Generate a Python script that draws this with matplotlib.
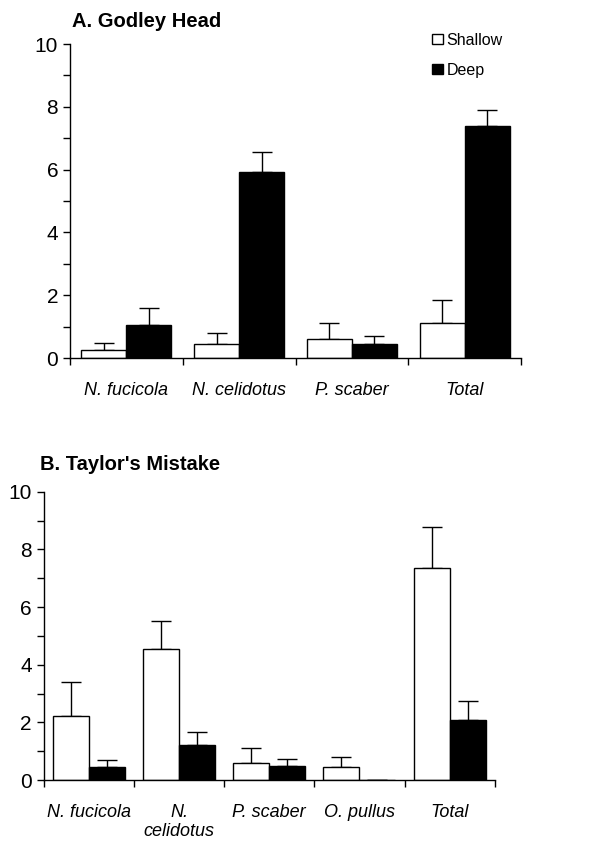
import numpy as np
import matplotlib
matplotlib.use("Agg")
import matplotlib.pyplot as plt
from matplotlib.patches import Patch

plt.rcParams['font.family'] = ['Liberation Sans', 'DejaVu Sans']

# A. Godley Head
cats_a = ["N. fucicola", "N. celidotus", "P. scaber", "Total"]
shallow_a = [0.24, 0.44, 0.60, 1.13]
shallow_se_a = [0.25, 0.36, 0.53, 0.73]
deep_a = [1.06, 5.93, 0.44, 7.39]
deep_se_a = [0.52, 0.62, 0.25, 0.50]

# B. Taylor's Mistake
cats_b = ["N. fucicola", "N.\ncelidotus", "P. scaber", "O. pullus", "Total"]
shallow_b = [2.23, 4.53, 0.58, 0.44, 7.36]
shallow_se_b = [1.18, 0.97, 0.52, 0.36, 1.43]
deep_b = [0.44, 1.20, 0.49, 0.0, 2.08]
deep_se_b = [0.27, 0.48, 0.25, 0.0, 0.66]


def panel(ax, cats, shallow, shallow_se, deep, deep_se):
    n = len(cats)
    x = np.arange(n)
    w = 0.4
    xs = x + 0.1 + w / 2
    xd = x + 0.5 + w / 2
    ax.errorbar(xs, shallow, yerr=[np.zeros(n), shallow_se], fmt='none',
                ecolor='black', elinewidth=1, capsize=7, capthick=1, zorder=1)
    ax.errorbar(xd, deep, yerr=[np.zeros(n), deep_se], fmt='none',
                ecolor='black', elinewidth=1, capsize=7, capthick=1, zorder=1)
    ax.bar(xs, shallow, width=w, color='white', edgecolor='black', linewidth=1, zorder=2)
    ax.bar(xd, deep, width=w, color='black', edgecolor='black', linewidth=1, zorder=2)

    ax.set_xlim(0, n)
    ax.set_ylim(0, 10)
    ax.spines['top'].set_visible(False)
    ax.spines['right'].set_visible(False)
    ax.spines['left'].set_linewidth(1)
    ax.spines['bottom'].set_linewidth(1)

    ax.set_xticks(np.arange(n + 1))
    ax.set_xticklabels([])
    ax.set_xticks(x + 0.5, minor=True)
    ax.set_xticklabels(cats, minor=True, style='italic', fontsize=13)
    ax.tick_params(axis='x', which='major', direction='out', length=5, width=1)
    ax.tick_params(axis='x', which='minor', length=0, pad=17)

    ax.set_yticks(np.arange(0, 11, 2))
    ax.set_yticks(np.arange(1, 10, 2), minor=True)
    ax.tick_params(axis='y', which='both', direction='out', length=5, width=1,
                   labelsize=15)


fig = plt.figure(figsize=(6.05, 8.43), dpi=100)
ax1 = fig.add_axes([0.1157, 0.5753, 0.7455, 0.3725])
ax2 = fig.add_axes([0.0722, 0.0747, 0.7455, 0.342])

panel(ax1, cats_a, shallow_a, shallow_se_a, deep_a, deep_se_a)
panel(ax2, cats_b, shallow_b, shallow_se_b, deep_b, deep_se_b)

fig.text(0.119, 0.975, "A. Godley Head", fontsize=14.5, fontweight='bold',
         ha='left', va='center')
fig.text(0.066, 0.449, "B. Taylor's Mistake", fontsize=14.5, fontweight='bold',
         ha='left', va='center')

handles = [Patch(facecolor='white', edgecolor='black', label='Shallow'),
           Patch(facecolor='black', edgecolor='black', label='Deep')]
fig.legend(handles=handles, loc='upper left', bbox_to_anchor=(0.704, 0.969),
           frameon=False, fontsize=11.5, handlelength=0.65, handleheight=0.65,
           handletextpad=0.25, labelspacing=0.95, borderaxespad=0)

fig.savefig("out.png", dpi=100)
